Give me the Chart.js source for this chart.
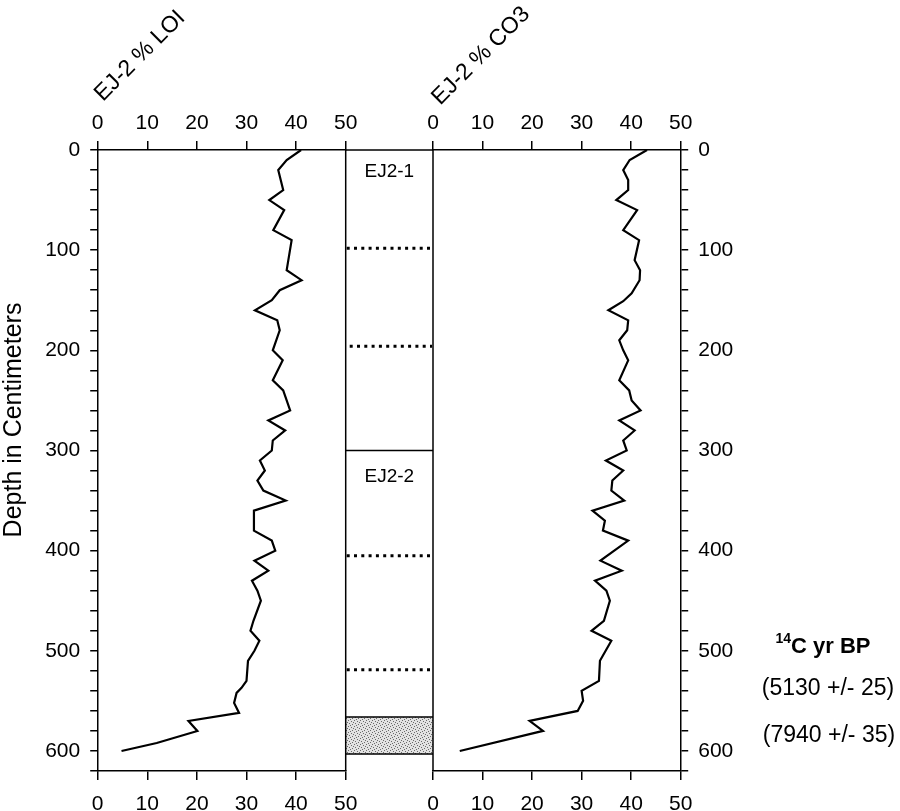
<!DOCTYPE html>
<html>
<head>
    <title>EJ-2 LOI and CO3</title>
    <script src="https://cdn.jsdelivr.net/npm/chart.js"></script>
    <style>
        body { margin: 0; background: #fff; }
        #wrap { position: relative; width: 900px; height: 811px; }
        #wrap canvas { position: absolute; left: 0; top: 0; }
    </style>
</head>
<body>
    <div id="wrap">
        <canvas id="loiChart" width="900" height="811"></canvas>
        <canvas id="co3Chart" width="900" height="811"></canvas>
    </div>

    <script>
        // EJ-2 % LOI (depth in cm)
        const loiDepth = [0, 10, 20, 40, 50, 60, 80, 90, 120, 130, 140, 150, 160, 170, 180, 200, 210, 230, 240, 260,
                          270, 280, 290, 300, 310, 320, 330, 340, 350, 360, 380, 390, 400, 410, 420, 430, 440, 450, 470, 480,
                          490, 500, 510, 530, 537, 542, 552, 562, 570, 580, 592, 600];
        const loiValue = [41.0, 38.1, 36.4, 37.4, 34.6, 37.6, 35.4, 39.1, 38.1, 41.1, 36.7, 35.1, 31.7, 36.2, 36.7, 35.3, 37.3, 35.3, 37.4, 38.8,
                          34.4, 37.8, 35.3, 35.1, 32.7, 33.7, 32.2, 33.4, 37.9, 31.5, 31.5, 35.1, 35.8, 31.6, 34.4, 31.1, 32.2, 32.9, 31.4, 30.8,
                          32.6, 31.6, 30.3, 30.0, 29.0, 28.0, 27.5, 28.5, 18.3, 20.1, 11.9, 4.8];

        // EJ-2 % CO3
        const co3Depth = [0, 10, 20, 30, 40, 50, 60, 80, 90, 110, 120, 130, 143, 151, 160, 170, 180, 190, 200, 210,
                          230, 240, 250, 260, 270, 280, 290, 300, 310, 320, 330, 340, 350, 360, 370, 380, 390, 410, 420, 430,
                          440, 450, 470, 480, 490, 510, 530, 540, 550, 560, 570, 580, 600];
        const co3Value = [43.2, 39.7, 38.4, 39.4, 39.4, 37.0, 41.2, 38.4, 41.6, 40.7, 41.8, 41.7, 40.1, 38.4, 35.4, 39.4, 39.2, 37.6, 38.4, 39.4,
                          37.6, 39.6, 40.1, 41.9, 37.6, 40.7, 38.4, 39.1, 34.9, 38.4, 36.2, 36.0, 38.6, 32.2, 34.7, 34.3, 39.4, 33.8, 38.1, 32.7,
                          35.0, 35.7, 34.5, 32.0, 36.0, 33.7, 33.5, 30.0, 30.3, 29.2, 19.5, 22.2, 5.4];

        // stratigraphic column
        const unitNames = ['EJ2-1', 'EJ2-2'];
        const unitLabelDepth = [22, 326];
        const unitBoundary = [300];
        const sampleBreaks = [98, 196, 405, 519];
        const sandTop = 566;
        const sandBottom = 603;

        const dateTitle = 'C yr BP';
        const dateLabels = ['(5130 +/- 25)', '(7940 +/- 35)'];

        const FONT = '"Liberation Sans", Arial, sans-serif';
        const TOP = 150, BOTTOM = 771;
        const LEFT_PANEL = [97.7, 345.7];
        const RIGHT_PANEL = [433, 680.7];

        function xAxis(pos) {
            return {
                type: 'linear', position: pos, min: 0, max: 50,
                ticks: { stepSize: 10, color: '#000', font: { family: FONT, size: 21 },
                         padding: pos === 'top' ? 5 : 12, maxRotation: 0, autoSkip: false },
                grid: { drawOnChartArea: false, tickLength: 9, color: '#000', lineWidth: 1.5 },
                border: { color: '#000', width: 1.5 },
                afterFit: s => { s.height = pos === 'top' ? TOP : 811 - BOTTOM; }
            };
        }

        function depthAxis(pos, width) {
            return {
                type: 'linear', position: pos, min: 0, max: 620, reverse: true,
                ticks: { stepSize: 20, color: '#000', font: { family: FONT, size: 21 }, padding: 10, autoSkip: false,
                         callback: v => (v % 100 === 0 && v <= 600) ? v : '' },
                grid: { drawOnChartArea: false, tickLength: 7.5, color: '#000', lineWidth: 1.5 },
                border: { color: '#000', width: 1.5 },
                afterFit: s => { s.width = width; }
            };
        }

        function series(depth, value) {
            return {
                data: depth.map((d, i) => ({ x: value[i], y: d })),
                showLine: true, pointRadius: 0, borderColor: '#000', borderWidth: 2.2, fill: false
            };
        }

        function sandPattern(ctx) {
            const c = document.createElement('canvas');
            c.width = 6; c.height = 6;
            const p = c.getContext('2d');
            p.fillStyle = '#e2e2e2';
            p.fillRect(0, 0, 6, 6);
            p.fillStyle = '#6a6a6a';
            [[0, 0], [3, 1], [1, 3], [4, 4], [5, 2], [2, 5]].forEach(([a, b]) => p.fillRect(a, b, 1, 1));
            return ctx.createPattern(c, 'repeat');
        }

        function drawRotated(ctx, text, cx, cy, angle, font) {
            ctx.save();
            ctx.translate(cx, cy);
            ctx.rotate(angle);
            ctx.font = font;
            ctx.fillStyle = '#000';
            ctx.textAlign = 'center';
            ctx.textBaseline = 'middle';
            ctx.fillText(text, 0, 0);
            ctx.restore();
        }

        const columnPlugin = {
            id: 'column',
            afterDraw(chart) {
                const { ctx, chartArea } = chart;
                const y = chart.scales.y;
                const x0 = chartArea.right, x1 = RIGHT_PANEL[0];
                ctx.save();
                ctx.strokeStyle = '#000';

                // sand layer
                const ys0 = y.getPixelForValue(sandTop), ys1 = y.getPixelForValue(sandBottom);
                ctx.fillStyle = sandPattern(ctx);
                ctx.fillRect(x0, ys0, x1 - x0, ys1 - ys0);
                ctx.lineWidth = 1.5;
                ctx.beginPath();
                ctx.moveTo(x0, ys0); ctx.lineTo(x1, ys0);
                ctx.moveTo(x0, ys1); ctx.lineTo(x1, ys1);
                unitBoundary.forEach(d => {
                    const py = y.getPixelForValue(d);
                    ctx.moveTo(x0, py); ctx.lineTo(x1, py);
                });
                // frame
                ctx.moveTo(x0, TOP); ctx.lineTo(x1, TOP);
                ctx.moveTo(x0, TOP); ctx.lineTo(x0, BOTTOM);
                ctx.moveTo(x1, TOP); ctx.lineTo(x1, BOTTOM);
                ctx.stroke();

                // dotted sample breaks
                ctx.lineWidth = 3;
                ctx.setLineDash([3, 4.3]);
                sampleBreaks.forEach((d, i) => {
                    const py = y.getPixelForValue(d);
                    const start = i === 1 ? x0 + 4 : x0 + 1;
                    ctx.beginPath();
                    ctx.moveTo(start, py); ctx.lineTo(x1 - 1, py);
                    ctx.stroke();
                });
                ctx.setLineDash([]);

                ctx.fillStyle = '#000';
                ctx.font = '19px ' + FONT;
                ctx.textAlign = 'center';
                ctx.textBaseline = 'middle';
                unitNames.forEach((n, i) => ctx.fillText(n, (x0 + x1) / 2, y.getPixelForValue(unitLabelDepth[i])));
                ctx.restore();
            }
        };

        const textPlugin = {
            id: 'texts',
            afterDraw(chart) {
                const ctx = chart.ctx;
                drawRotated(ctx, 'EJ-2 % LOI', 140, 56, -Math.PI / 4, '23px ' + FONT);
                drawRotated(ctx, 'EJ-2 % CO3', 481, 56, -Math.PI / 4, '23px ' + FONT);
                drawRotated(ctx, 'Depth in Centimeters', 14, 420, -Math.PI / 2, '25px ' + FONT);

                ctx.save();
                ctx.fillStyle = '#000';
                ctx.textBaseline = 'alphabetic';
                const big = 'bold 22px ' + FONT, small = 'bold 14px ' + FONT;
                ctx.font = small;
                const wSup = ctx.measureText('14').width;
                ctx.font = big;
                const wMain = ctx.measureText(dateTitle).width;
                const left = 823 - (wSup + wMain) / 2;
                ctx.textAlign = 'left';
                ctx.font = small;
                ctx.fillText('14', left, 643);
                ctx.font = big;
                ctx.fillText(dateTitle, left + wSup, 653);
                ctx.font = '23px ' + FONT;
                ctx.textAlign = 'center';
                ctx.fillText(dateLabels[0], 828, 695);
                ctx.fillText(dateLabels[1], 829, 742);
                ctx.restore();
            }
        };

        const common = {
            responsive: false,
            animation: false,
            events: [],
            plugins: { legend: { display: false }, tooltip: { enabled: false } }
        };

        new Chart(document.getElementById('loiChart').getContext('2d'), {
            type: 'scatter',
            data: { datasets: [series(loiDepth, loiValue)] },
            options: Object.assign({}, common, {
                layout: { padding: { left: 0, right: 900 - LEFT_PANEL[1], top: 0, bottom: 0 } },
                scales: { x: xAxis('bottom'), x2: xAxis('top'), y: depthAxis('left', LEFT_PANEL[0]) }
            }),
            plugins: [columnPlugin, textPlugin]
        });

        new Chart(document.getElementById('co3Chart').getContext('2d'), {
            type: 'scatter',
            data: { datasets: [series(co3Depth, co3Value)] },
            options: Object.assign({}, common, {
                layout: { padding: { left: RIGHT_PANEL[0], right: 0, top: 0, bottom: 0 } },
                scales: { x: xAxis('bottom'), x2: xAxis('top'), y: depthAxis('right', 900 - RIGHT_PANEL[1]) }
            })
        });
    </script>
</body>
</html>
